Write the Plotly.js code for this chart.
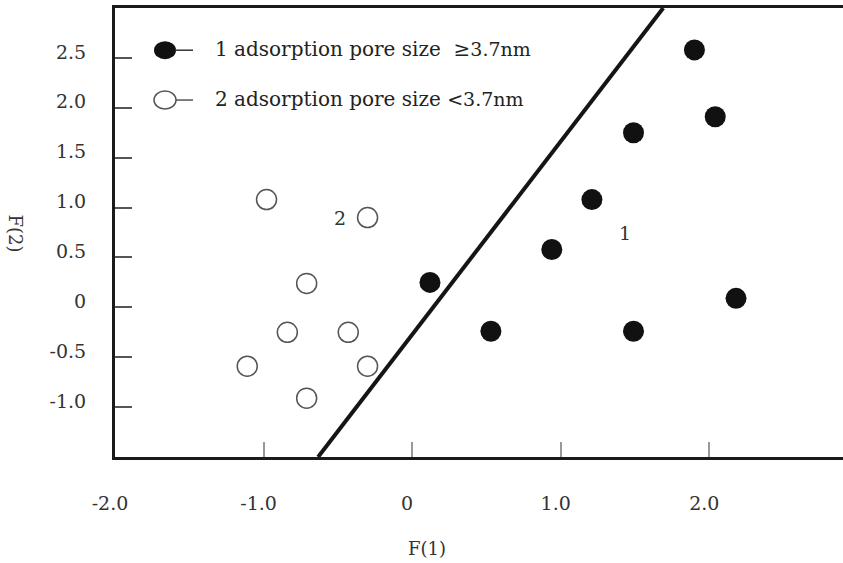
<!DOCTYPE html>
<html>
<head>
<meta charset="utf-8">
<script src="https://cdn.plot.ly/plotly-3.0.1.min.js"></script>
<style>html,body{margin:0;padding:0;background:#fff;}#chart{width:843px;height:563px;}</style>
</head>
<body>
<div id="chart"></div>
<script>
// Group 1: adsorption pore size >= 3.7nm (filled)
var group1X = [1.90, 2.04, 1.49, 1.21, 0.94, 0.12, 0.53, 1.49, 2.18];
var group1Y = [2.58, 1.91, 1.75, 1.08, 0.58, 0.25, -0.24, -0.24, 0.09];
// Group 2: adsorption pore size < 3.7nm (open)
var group2X = [-0.98, -0.30, -0.71, -0.84, -0.43, -1.11, -0.30, -0.71];
var group2Y = [1.08, 0.90, 0.24, -0.25, -0.25, -0.59, -0.59, -0.91];
// Discriminant line end points
var lineX = [-0.633, 1.69];
var lineY = [-1.5, 3.0];
// Tick labels
var xTickVals = [-2, -1, 0, 1, 2];
var xTickText = ['-2.0', '-1.0', '0', '1.0', '2.0'];
var yTickVals = [2.5, 2.0, 1.5, 1.0, 0.5, 0, -0.5, -1.0];
var yTickText = ['2.5', '2.0', '1.5', '1.0', '0.5', '0', '-0.5', '-1.0'];
var legendTexts = ['1 adsorption pore size  \u2265<span style="font-size:19px">3.7nm</span>',
                   '2 adsorption pore size <span style="font-size:19px">&lt;3.7nm</span>'];
var groupLabels = [{x: -0.485, y: 0.90, t: '2'}, {x: 1.434, y: 0.75, t: '1'}];

var serif = 'DejaVu Serif';
var traces = [
  {x: lineX, y: lineY, mode: 'lines', line: {color: '#151515', width: 4}, showlegend: false, hoverinfo: 'skip'},
  {x: group1X, y: group1Y, mode: 'markers', name: 'group1',
   marker: {symbol: 'circle', size: 21, color: '#111', line: {width: 0}}, showlegend: false},
  {x: group2X, y: group2Y, mode: 'markers', name: 'group2',
   marker: {symbol: 'circle-open', size: 20, color: '#555', line: {width: 1.5, color: '#555'}}, showlegend: false}
];

var annotations = [
  {xref: 'paper', yref: 'paper', x: 0.1346, y: 0.908, xanchor: 'left', yanchor: 'middle', text: legendTexts[0], showarrow: false, font: {family: serif, size: 20, color: '#222'}},
  {xref: 'paper', yref: 'paper', x: 0.1346, y: 0.797, xanchor: 'left', yanchor: 'middle', text: legendTexts[1], showarrow: false, font: {family: serif, size: 20, color: '#222'}},
  {xref: 'paper', yref: 'paper', x: 0.4286, y: -0.204, xanchor: 'center', yanchor: 'middle', text: 'F(1)', showarrow: false, font: {family: serif, size: 18, color: '#333'}},
  {xref: 'paper', yref: 'paper', x: -0.137, y: 0.497, xanchor: 'center', yanchor: 'middle', text: 'F(2)', textangle: 90, showarrow: false, font: {family: serif, size: 18, color: '#333'}}
];
groupLabels.forEach(function (g) {
  annotations.push({x: g.x, y: g.y, text: g.t, showarrow: false, xanchor: 'center', yanchor: 'middle', font: {family: serif, size: 19, color: '#333'}});
});

var shapes = [
  {type: 'circle', xref: 'paper', yref: 'paper', xsizemode: 'pixel', ysizemode: 'pixel', xanchor: 0.0687, yanchor: 0.906, x0: -11, x1: 11, y0: -9, y1: 9, fillcolor: '#111', line: {width: 0}},
  {type: 'line', xref: 'paper', yref: 'paper', xsizemode: 'pixel', xanchor: 0.0687, x0: 10, x1: 28, y0: 0.906, y1: 0.906, line: {color: '#333', width: 1.5}},
  {type: 'circle', xref: 'paper', yref: 'paper', xsizemode: 'pixel', ysizemode: 'pixel', xanchor: 0.0687, yanchor: 0.795, x0: -11, x1: 11, y0: -9, y1: 9, fillcolor: 'rgba(0,0,0,0)', line: {color: '#555', width: 1.5}},
  {type: 'line', xref: 'paper', yref: 'paper', xsizemode: 'pixel', xanchor: 0.0687, x0: 11, x1: 28, y0: 0.795, y1: 0.795, line: {color: '#555', width: 1.5}}
];

var layout = {
  width: 843, height: 563,
  margin: {l: 115, r: 0, t: 8, b: 106},
  paper_bgcolor: '#fff', plot_bgcolor: '#fff',
  showlegend: false,
  font: {family: serif},
  xaxis: {range: [-2, 2.9], tickvals: xTickVals, ticktext: xTickText, ticks: 'inside', ticklen: 15, tickwidth: 2, tickcolor: '#999',
          showgrid: false, zeroline: false, showline: true, linecolor: '#1a1a1a', linewidth: 3, mirror: true,
          tickfont: {family: serif, size: 19, color: '#333'}, ticklabelstandoff: 27, ticklabelshift: -5},
  yaxis: {range: [-1.5, 3.0], tickvals: yTickVals, ticktext: yTickText, ticks: 'inside', ticklen: 17, tickwidth: 2, tickcolor: '#555',
          showgrid: false, zeroline: false, showline: true, linecolor: '#1a1a1a', linewidth: 3, mirror: false,
          tickfont: {family: serif, size: 19, color: '#333'}, ticklabelstandoff: 22, ticklabelshift: -6},
  annotations: annotations,
  shapes: shapes
};
Plotly.newPlot('chart', traces, layout, {staticPlot: true});
</script>
</body>
</html>
